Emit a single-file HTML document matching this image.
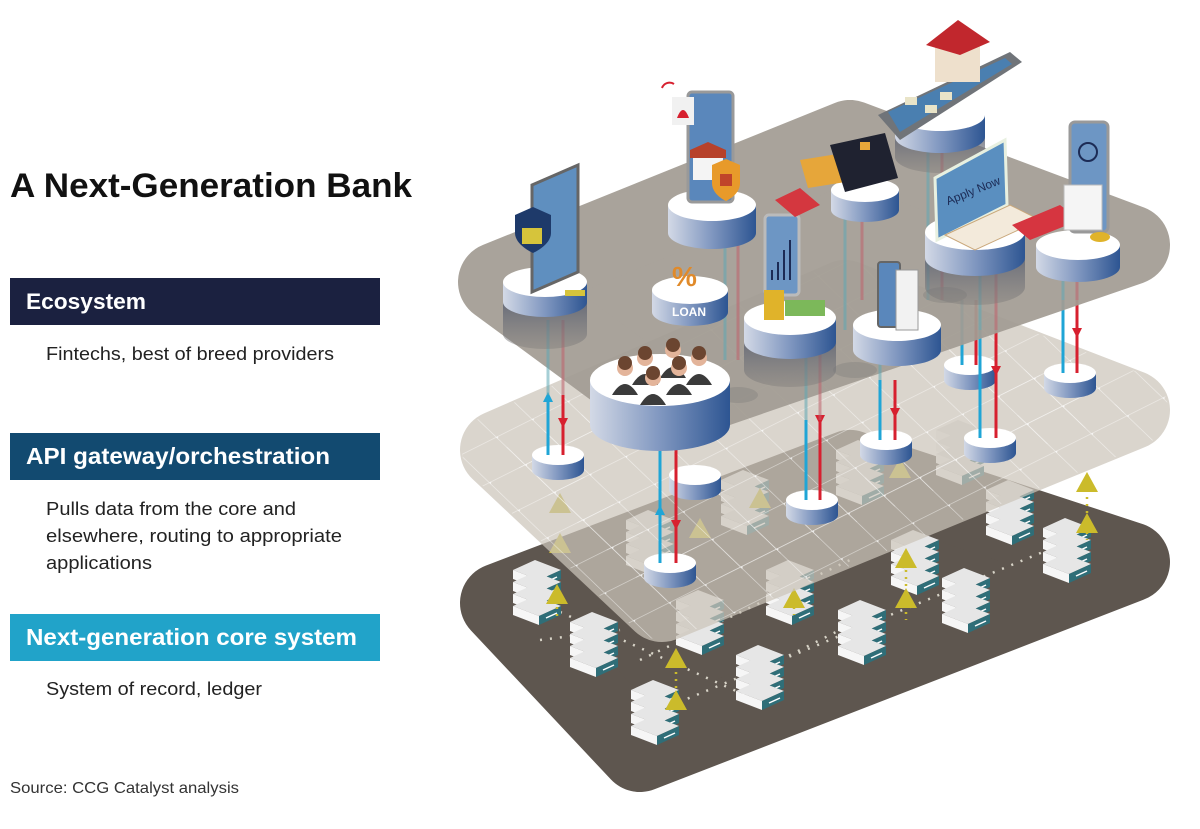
<!DOCTYPE html>
<html><head><meta charset="utf-8"><style>
html,body{margin:0;padding:0;background:#fff;}
svg{display:block;}
</style></head><body>
<svg width="1200" height="829" viewBox="0 0 1200 829" xmlns="http://www.w3.org/2000/svg" font-family="Liberation Sans, sans-serif">
<defs>
<linearGradient id="side" x1="0" x2="1" y1="0" y2="0"><stop offset="0" stop-color="#d3d9e6"/><stop offset="0.5" stop-color="#8097c0"/><stop offset="1" stop-color="#2d5592"/></linearGradient>
<linearGradient id="dark" x1="0" x2="0" y1="0" y2="1"><stop offset="0" stop-color="#4b5670"/><stop offset="1" stop-color="#7d7a78" stop-opacity="0.4"/></linearGradient>
<pattern id="grid" width="40" height="40" patternUnits="userSpaceOnUse" patternTransform="matrix(0.894 -0.447 0.72 0.69 460 455)">
<path d="M0 0H40M0 0V40" stroke="#ffffff" stroke-opacity="0.75" stroke-width="1.3" fill="none"/><circle cx="0" cy="0" r="2" fill="#fff"/>
</pattern>
<symbol id="srv" overflow="visible">
<g id="u"><polygon points="-24,0 -2,-10 24,0 2,10" fill="#e6e6e6"/><polygon points="-24,0 2,10 2,19 -24,9" fill="#f6f6f6"/><polygon points="2,10 24,0 24,9 2,19" fill="#2f6e78"/><line x1="9" y1="12" x2="20" y2="7" stroke="#fff" stroke-width="1.5"/></g>
<use href="#u" y="12"/><use href="#u" y="24"/><use href="#u" y="36"/>
</symbol>
<symbol id="tri" overflow="visible"><polygon points="0,-12 11,8 -11,8" fill="#cbbb2b"/></symbol>
</defs>

<text x="10" y="197" font-size="34" font-weight="bold" fill="#111" textLength="402" lengthAdjust="spacingAndGlyphs">A Next-Generation Bank</text>
<rect x="10" y="278" width="370" height="47" fill="#1b2140"/>
<text x="26" y="309" font-size="22" font-weight="bold" fill="#fff" textLength="120" lengthAdjust="spacingAndGlyphs">Ecosystem</text>
<text x="46" y="360" font-size="18.5" fill="#222" textLength="288" lengthAdjust="spacingAndGlyphs">Fintechs, best of breed providers</text>
<rect x="10" y="433" width="370" height="47" fill="#124a70"/>
<text x="26" y="464" font-size="23" font-weight="bold" fill="#fff" textLength="304" lengthAdjust="spacingAndGlyphs">API gateway/orchestration</text>
<text x="46" y="515" font-size="18.5" fill="#222" textLength="250" lengthAdjust="spacingAndGlyphs">Pulls data from the core and</text>
<text x="46" y="542" font-size="18.5" fill="#222" textLength="296" lengthAdjust="spacingAndGlyphs">elsewhere, routing to appropriate</text>
<text x="46" y="569" font-size="18.5" fill="#222" textLength="106" lengthAdjust="spacingAndGlyphs">applications</text>
<rect x="10" y="614" width="370" height="47" fill="#21a3c9"/>
<text x="26" y="645" font-size="23" font-weight="bold" fill="#fff" textLength="331" lengthAdjust="spacingAndGlyphs">Next-generation core system</text>
<text x="46" y="695" font-size="18.5" fill="#222" textLength="216" lengthAdjust="spacingAndGlyphs">System of record, ledger</text>
<text x="10" y="793" font-size="16" fill="#333" textLength="229" lengthAdjust="spacingAndGlyphs">Source: CCG Catalyst analysis</text>

<!-- bottom plate -->
<polygon points="500,603 850,470 1130,562 640,752" fill="#5e564f" stroke="#5e564f" stroke-width="80" stroke-linejoin="round"/>
<g stroke="#d8d4c8" stroke-width="2.5" stroke-dasharray="2 8" fill="none">
<path d="M660 710 L1060 545"/><path d="M560 612 L745 695"/><path d="M640 660 L850 560"/><path d="M780 660 L880 610"/><path d="M540 640 L620 630"/>
</g>
<use href="#srv" x="537" y="570"/>
<use href="#srv" x="594" y="622"/>
<use href="#srv" x="655" y="690"/>
<use href="#srv" x="760" y="655"/>
<use href="#srv" x="862" y="610"/>
<use href="#srv" x="966" y="578"/>
<use href="#srv" x="1067" y="528"/>
<use href="#srv" x="700" y="600"/>
<use href="#srv" x="790" y="570"/>
<use href="#srv" x="915" y="540"/>
<use href="#srv" x="1010" y="490"/>
<use href="#srv" x="650" y="520"/>
<use href="#srv" x="745" y="480"/>
<use href="#srv" x="860" y="450"/>
<use href="#srv" x="960" y="430"/>
<g stroke="#cbbb2b" stroke-width="2.5" stroke-dasharray="2 5"><line x1="557" y1="600" x2="557" y2="620"/><line x1="676" y1="665" x2="676" y2="710"/><line x1="906" y1="570" x2="906" y2="620"/><line x1="1087" y1="490" x2="1087" y2="540"/><line x1="794" y1="600" x2="794" y2="615"/></g>
<use href="#tri" x="557" y="596"/><use href="#tri" x="676" y="660"/><use href="#tri" x="676" y="702"/><use href="#tri" x="794" y="600"/><use href="#tri" x="906" y="560"/><use href="#tri" x="906" y="600"/><use href="#tri" x="1087" y="484"/><use href="#tri" x="1087" y="525"/>
<use href="#tri" x="700" y="530"/><use href="#tri" x="760" y="500"/><use href="#tri" x="900" y="470"/><use href="#tri" x="980" y="450"/><use href="#tri" x="560" y="505"/><use href="#tri" x="560" y="545"/>

<!-- middle plate -->
<g opacity="0.72">
<polygon points="500,450 845,300 1130,410 662,602" fill="#ccc5ba" stroke="#ccc5ba" stroke-width="80" stroke-linejoin="round"/>
</g>
<clipPath id="mc"><polygon points="500,450 845,300 1130,410 662,602" stroke-width="80"/></clipPath>
<g opacity="0.8">
<polygon points="500,450 845,300 1130,410 662,602" fill="url(#grid)" stroke="url(#grid)" stroke-width="76" stroke-linejoin="round"/>
</g>

<g>
<g transform="translate(558,455)"><path d="M-26 0v15a26 10 0 0 0 52 0v-15z" fill="url(#side)"/><ellipse rx="26" ry="10" fill="#fff"/></g>
<g transform="translate(695,475)"><path d="M-26 0v15a26 10 0 0 0 52 0v-15z" fill="url(#side)"/><ellipse rx="26" ry="10" fill="#fff"/></g>
<g transform="translate(670,563)"><path d="M-26 0v15a26 10 0 0 0 52 0v-15z" fill="url(#side)"/><ellipse rx="26" ry="10" fill="#fff"/></g>
<g transform="translate(812,500)"><path d="M-26 0v15a26 10 0 0 0 52 0v-15z" fill="url(#side)"/><ellipse rx="26" ry="10" fill="#fff"/></g>
<g transform="translate(886,440)"><path d="M-26 0v15a26 10 0 0 0 52 0v-15z" fill="url(#side)"/><ellipse rx="26" ry="10" fill="#fff"/></g>
<g transform="translate(990,438)"><path d="M-26 0v15a26 10 0 0 0 52 0v-15z" fill="url(#side)"/><ellipse rx="26" ry="10" fill="#fff"/></g>
<g transform="translate(970,365)"><path d="M-26 0v15a26 10 0 0 0 52 0v-15z" fill="url(#side)"/><ellipse rx="26" ry="10" fill="#fff"/></g>
<g transform="translate(1070,373)"><path d="M-26 0v15a26 10 0 0 0 52 0v-15z" fill="url(#side)"/><ellipse rx="26" ry="10" fill="#fff"/></g>
</g>

<g stroke-width="3" fill="none">
<line x1="548" y1="455" x2="548" y2="395" stroke="#1fa5d6"/><line x1="563" y1="395" x2="563" y2="455" stroke="#d7202f"/>
<line x1="660" y1="563" x2="660" y2="450" stroke="#1fa5d6"/><line x1="676" y1="450" x2="676" y2="563" stroke="#d7202f"/>
<line x1="806" y1="500" x2="806" y2="420" stroke="#1fa5d6"/><line x1="820" y1="420" x2="820" y2="500" stroke="#d7202f"/>
<line x1="880" y1="440" x2="880" y2="380" stroke="#1fa5d6"/><line x1="895" y1="380" x2="895" y2="440" stroke="#d7202f"/>
<line x1="980" y1="438" x2="980" y2="330" stroke="#1fa5d6"/><line x1="996" y1="330" x2="996" y2="438" stroke="#d7202f"/>
<line x1="962" y1="365" x2="962" y2="300" stroke="#1fa5d6"/><line x1="976" y1="300" x2="976" y2="365" stroke="#d7202f"/>
<line x1="1063" y1="373" x2="1063" y2="300" stroke="#1fa5d6"/><line x1="1077" y1="300" x2="1077" y2="373" stroke="#d7202f"/>
</g>
<g>
<polygon points="548,392 543,402 553,402" fill="#1fa5d6"/><polygon points="563,428 558,418 568,418" fill="#d7202f"/>
<polygon points="660,505 655,515 665,515" fill="#1fa5d6"/><polygon points="676,530 671,520 681,520" fill="#d7202f"/>
<polygon points="820,425 815,415 825,415" fill="#d7202f"/><polygon points="895,418 890,408 900,408" fill="#d7202f"/>
<polygon points="996,376 991,366 1001,366" fill="#d7202f"/><polygon points="1077,338 1072,328 1082,328" fill="#d7202f"/>
</g>

<!-- top plate -->
<g opacity="0.93">
<polygon points="498,282 850,140 1130,245 665,405" fill="#a39d94" stroke="#a39d94" stroke-width="80" stroke-linejoin="round"/>
</g>

<g stroke-width="3" opacity="0.55">
<line x1="548" y1="395" x2="548" y2="320" stroke="#5fa8b5"/><line x1="563" y1="395" x2="563" y2="320" stroke="#c0616b"/>
<line x1="806" y1="420" x2="806" y2="340" stroke="#5fa8b5"/><line x1="820" y1="420" x2="820" y2="340" stroke="#c0616b"/>
<line x1="880" y1="380" x2="880" y2="340" stroke="#5fa8b5"/>
<line x1="980" y1="330" x2="980" y2="265" stroke="#5fa8b5"/><line x1="996" y1="330" x2="996" y2="265" stroke="#c0616b"/>
<line x1="1063" y1="300" x2="1063" y2="260" stroke="#5fa8b5"/><line x1="1077" y1="300" x2="1077" y2="260" stroke="#c0616b"/>
<line x1="725" y1="360" x2="725" y2="230" stroke="#5fa8b5"/><line x1="738" y1="360" x2="738" y2="230" stroke="#c0616b"/>
<line x1="845" y1="330" x2="845" y2="210" stroke="#5fa8b5"/><line x1="862" y1="300" x2="862" y2="210" stroke="#c0616b"/>
<line x1="928" y1="300" x2="928" y2="140" stroke="#5fa8b5"/><line x1="942" y1="300" x2="942" y2="140" stroke="#c0616b"/>
</g>
<ellipse cx="738" cy="395" rx="20" ry="8" fill="#8e8a86" opacity="0.6"/>
<ellipse cx="855" cy="370" rx="22" ry="8" fill="#8e8a86" opacity="0.6"/>
<ellipse cx="945" cy="295" rx="22" ry="8" fill="#8e8a86" opacity="0.6"/>

<g transform="translate(545,282)"><path d="M-42 0v52a42 15 0 0 0 84 0v-52z" fill="url(#dark)"/><path d="M-42 0v20a42 15 0 0 0 84 0v-20z" fill="url(#side)"/><ellipse rx="42" ry="15" fill="#fff"/></g>
<polygon points="532,185 578,165 578,272 532,292" fill="#5f8fbf" stroke="#666" stroke-width="3"/>
<path d="M515 215 l18 -8 l18 8 v18 c0 12 -18 20 -18 20 c0 0 -18 -8 -18 -20z" fill="#1e3a6a"/><rect x="522" y="228" width="20" height="16" fill="#d6c43b"/>
<rect x="565" y="290" width="20" height="6" fill="#d6c43b"/>
<g transform="translate(690,290)"><path d="M-38 0v22a38 14 0 0 0 76 0v-22z" fill="url(#side)"/><ellipse rx="38" ry="14" fill="#fff"/></g>
<text x="672" y="316" font-size="12" font-weight="bold" fill="#fff">LOAN</text>
<text x="672" y="286" font-size="28" font-weight="bold" fill="#e08a2a">%</text>
<g transform="translate(712,205)"><path d="M-44 0v28a44 16 0 0 0 88 0v-28z" fill="url(#side)"/><ellipse rx="44" ry="16" fill="#fff"/></g>
<rect x="688" y="92" width="45" height="110" rx="4" fill="#5a87bb" stroke="#999" stroke-width="3"/>
<rect x="672" y="97" width="22" height="28" fill="#f1f1f1"/><path d="M677 118 q6 -16 12 0z" fill="#d7202f"/>
<path d="M662 88 a8 8 0 0 1 12 -4" stroke="#d7202f" stroke-width="2" fill="none"/>
<path d="M690 150 l18 -8 l18 8 v8 h-36z" fill="#b7412a"/><rect x="693" y="158" width="30" height="22" fill="#f4f4f4"/>
<path d="M712 165 l14 -6 l14 6 v18 c0 12 -14 18 -14 18 c0 0 -14 -6 -14 -18z" fill="#e89a2a"/><rect x="720" y="174" width="12" height="12" fill="#c0452a"/>
<g transform="translate(660,380)"><path d="M-70 0v45a70 26 0 0 0 140 0v-45z" fill="url(#side)"/><ellipse rx="70" ry="26" fill="#fff"/></g>
<g fill="#3b3b3b">
<path d="M612 395 q13 -22 26 0z"/><path d="M640 405 q13 -22 26 0z"/><path d="M666 395 q13 -22 26 0z"/><path d="M632 385 q13 -22 26 0z"/><path d="M660 378 q13 -22 26 0z"/><path d="M686 385 q13 -22 26 0z"/>
</g>
<g fill="#e3b49a"><circle cx="625" cy="368" r="8"/><circle cx="653" cy="378" r="8"/><circle cx="679" cy="368" r="8"/><circle cx="645" cy="358" r="8"/><circle cx="673" cy="350" r="8"/><circle cx="699" cy="358" r="8"/></g>
<g fill="#6b4530"><circle cx="625" cy="363" r="7"/><circle cx="653" cy="373" r="7"/><circle cx="679" cy="363" r="7"/><circle cx="645" cy="353" r="7"/><circle cx="673" cy="345" r="7"/><circle cx="699" cy="353" r="7"/></g>
<g transform="translate(790,318)"><path d="M-46 0v52a46 17 0 0 0 92 0v-52z" fill="url(#dark)"/><path d="M-46 0v24a46 17 0 0 0 92 0v-24z" fill="url(#side)"/><ellipse rx="46" ry="17" fill="#fff"/></g>
<rect x="765" y="215" width="34" height="80" rx="4" fill="#6d96c4" stroke="#bbb" stroke-width="3"/>
<path d="M772 280 v-10 M778 280 v-18 M784 280 v-30 M790 280 v-40" stroke="#1c2b55" stroke-width="2"/>
<rect x="764" y="290" width="20" height="30" fill="#e0b32a"/><rect x="785" y="300" width="40" height="16" fill="#7cb85a"/>
<polygon points="775,200 800,188 820,205 795,217" fill="#d4373f"/>
<g transform="translate(865,190)"><path d="M-34 0v20a34 12 0 0 0 68 0v-20z" fill="url(#side)"/><ellipse rx="34" ry="12" fill="#fff"/></g>
<polygon points="800,160 850,152 858,180 808,188" fill="#e6a63a"/>
<polygon points="830,145 885,133 898,178 845,192" fill="#1f2230"/><rect x="860" y="142" width="10" height="8" fill="#e6a63a"/>
<g transform="translate(940,115)"><path d="M-45 0v42a45 16 0 0 0 90 0v-42z" fill="url(#dark)"/><path d="M-45 0v22a45 16 0 0 0 90 0v-22z" fill="url(#side)"/><ellipse rx="45" ry="16" fill="#fff"/></g>
<polygon points="878,115 1010,52 1022,62 900,140" fill="#707479"/><polygon points="888,112 1005,58 1012,64 900,132" fill="#4a7fb0"/>
<rect x="935" y="42" width="45" height="40" fill="#eee0cc"/><polygon points="926,45 958,20 990,42 960,55" fill="#c1272d"/>
<rect x="905" y="97" width="12" height="8" fill="#e9e4c8"/><rect x="925" y="105" width="12" height="8" fill="#e9e4c8"/><rect x="940" y="92" width="12" height="8" fill="#e9e4c8"/>
<g transform="translate(975,232)"><path d="M-50 0v55a50 18 0 0 0 100 0v-55z" fill="url(#dark)"/><path d="M-50 0v26a50 18 0 0 0 100 0v-26z" fill="url(#side)"/><ellipse rx="50" ry="18" fill="#fff"/></g>
<polygon points="935,178 1005,140 1007,205 937,240" fill="#5a8fc0" stroke="#e8f0e0" stroke-width="3"/>
<text x="945" y="200" font-size="12" fill="#1c2b55" transform="rotate(-22 960 195)">Apply Now</text>
<polygon points="945,235 1010,205 1040,220 975,250" fill="#f3eadb" stroke="#c9a77a"/>
<polygon points="1012,225 1060,205 1080,220 1030,240" fill="#d63540"/>
<g transform="translate(897,325)"><path d="M-44 0v25a44 16 0 0 0 88 0v-25z" fill="url(#side)"/><ellipse rx="44" ry="16" fill="#fff"/></g>
<rect x="878" y="262" width="22" height="65" rx="3" fill="#5a87bb" stroke="#666" stroke-width="2"/>
<rect x="896" y="270" width="22" height="60" fill="#f2f2f2" stroke="#999"/>
<g transform="translate(1078,245)"><path d="M-42 0v22a42 15 0 0 0 84 0v-22z" fill="url(#side)"/><ellipse rx="42" ry="15" fill="#fff"/></g>
<rect x="1070" y="122" width="38" height="110" rx="5" fill="#6d96c4" stroke="#999" stroke-width="3"/>
<circle cx="1088" cy="152" r="9" fill="none" stroke="#1c2b55" stroke-width="2"/>
<rect x="1064" y="185" width="38" height="45" fill="#f5f5f5" stroke="#bbb"/>
<ellipse cx="1100" cy="237" rx="10" ry="5" fill="#e0b32a"/>
</svg>
</body></html>
